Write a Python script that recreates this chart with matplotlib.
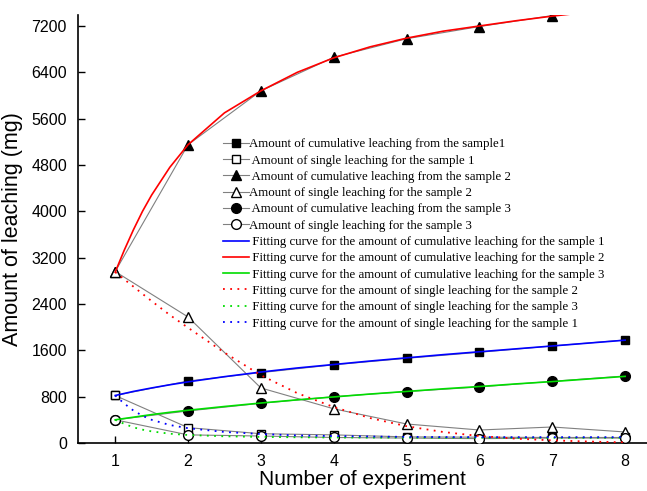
import numpy as np
import matplotlib
matplotlib.use("Agg")
import matplotlib.pyplot as plt

plt.rcParams['font.family'] = ['Liberation Sans', 'DejaVu Sans']

# measured points
experiment = [1, 2, 3, 4, 5, 6, 7, 8]
cum_s1 = [820, 1070, 1215, 1350, 1462, 1566, 1675, 1779]
single_s1 = [820, 265, 160, 140, 105, 100, 95, 95]
cum_s2 = [2960, 5150, 6080, 6660, 6980, 7190, 7380, 7560]
single_s2 = [2960, 2176, 950, 590, 328, 224, 276, 190]
cum_s3 = [400, 553, 685, 800, 887, 967, 1065, 1157]
single_s3 = [400, 140, 120, 95, 85, 75, 85, 85]

# fitting curves
fit_x = [1, 1.125, 1.25, 1.375, 1.5, 1.75, 2, 2.5, 3, 3.5, 4, 4.5, 5, 5.5, 6, 6.5, 7, 7.5, 8]
fit_cum_s1 = [820, 855, 890, 920, 950, 1005, 1055, 1145, 1225, 1295, 1355, 1415, 1470, 1525, 1575, 1625, 1675, 1725, 1775]
fit_cum_s2 = [2950, 3330, 3680, 4000, 4280, 4760, 5150, 5700, 6080, 6400, 6650, 6840, 6990, 7110, 7200, 7290, 7370, 7440, 7500]
fit_cum_s3 = [400, 423, 445, 468, 490, 530, 565, 630, 690, 745, 795, 845, 890, 935, 975, 1020, 1060, 1105, 1150]
fit_single_s2 = [2950, 2825, 2700, 2575, 2450, 2210, 1990, 1560, 1170, 860, 620, 430, 290, 190, 120, 75, 45, 25, 10]
fit_single_s3 = [400, 330, 270, 230, 200, 160, 138, 115, 105, 98, 95, 93, 92, 91, 90, 90, 90, 90, 90]
fit_single_s1 = [820, 680, 560, 470, 400, 310, 255, 190, 155, 130, 120, 112, 105, 102, 100, 100, 100, 100, 100]

yticks = np.arange(0, 7201, 800)

fig = plt.figure(figsize=(6.47, 4.91), dpi=100)
ax = fig.add_axes([0.1206, 0.0978, 0.8794, 0.8717])

gray = '#808080'
def data_line(y, marker, fill, label, ms):
    ax.plot(experiment, y, color=gray, lw=0.8, marker=marker, ms=ms,
            mfc=fill, mec='black', mew=1.0, label=label, zorder=3)

data_line(cum_s1, 's', 'black', "Amount of cumulative leaching from the sample1", 6)
data_line(single_s1, 's', 'white', " Amount of single leaching for the sample 1", 6)
data_line(cum_s2, '^', 'black', " Amount of cumulative leaching from the sample 2", 7)
data_line(single_s2, '^', 'white', "Amount of single leaching for the sample 2", 7)
data_line(cum_s3, 'o', 'black', " Amount of cumulative leaching from the sample 3", 7)
data_line(single_s3, 'o', 'white', "Amount of single leaching for the sample 3", 7)

ax.plot(fit_x, fit_cum_s1, color='#0000ff', lw=1.2, zorder=4,
        label=" Fitting curve for the amount of cumulative leaching for the sample 1")
ax.plot(fit_x, fit_cum_s2, color='#ff0000', lw=1.2, zorder=4,
        label=" Fitting curve for the amount of cumulative leaching for the sample 2")
ax.plot(fit_x, fit_cum_s3, color='#00dd00', lw=1.2, zorder=4,
        label=" Fitting curve for the amount of cumulative leaching for the sample 3")
dots = (0, (1, 3))
ax.plot(fit_x, fit_single_s2, color='#ff0000', lw=1.3, ls=dots, zorder=4,
        label=" Fitting curve for the amount of single leaching for the sample 2")
ax.plot(fit_x, fit_single_s3, color='#00dd00', lw=1.3, ls=dots, zorder=4,
        label=" Fitting curve for the amount of single leaching for the sample 3")
ax.plot(fit_x, fit_single_s1, color='#0000ff', lw=1.3, ls=dots, zorder=4,
        label=" Fitting curve for the amount of single leaching for the sample 1")

ax.set_xlim(0.49, 8.3)
ax.set_ylim(0, 7390)
ax.set_xticks(experiment)
ax.set_yticks(yticks)
ax.tick_params(direction='in', length=5, width=1, labelsize=11.5, pad=8)
for s in ['top', 'right']:
    ax.spines[s].set_visible(False)
for s in ['left', 'bottom']:
    ax.spines[s].set_linewidth(1.2)

ax.set_xlabel("Number of experiment", fontsize=15, labelpad=1)
ax.set_ylabel("Amount of leaching (mg)", fontsize=15.5, labelpad=6)

ax.legend(loc='upper left', bbox_to_anchor=(0.255, 0.712), frameon=False,
          prop={'family': 'Liberation Serif', 'size': 9.3},
          handlelength=2.0, handletextpad=0.0, labelspacing=0.33,
          borderpad=0, borderaxespad=0)

fig.savefig("out.png", dpi=100)
